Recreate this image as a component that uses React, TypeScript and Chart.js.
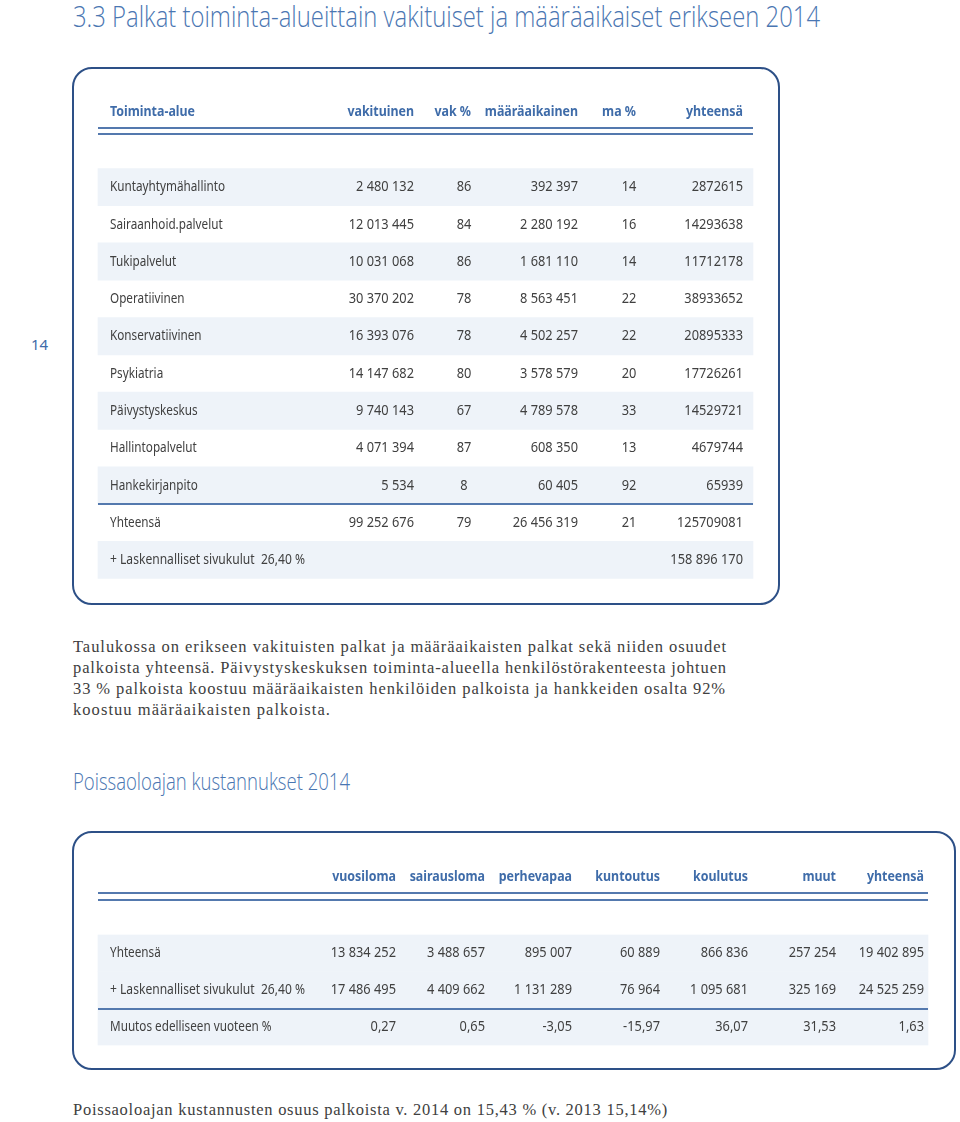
import React, { useEffect, useLayoutEffect, useRef } from "react";
import { Chart, registerables } from "chart.js";

Chart.register(...registerables);

// ---------- Table 1 data ----------
const HEADERS1 = ["Toiminta-alue", "vakituinen", "vak %", "määräaikainen", "ma %", "yhteensä"];
const AREAS = [
  "Kuntayhtymähallinto",
  "Sairaanhoid.palvelut",
  "Tukipalvelut",
  "Operatiivinen",
  "Konservatiivinen",
  "Psykiatria",
  "Päivystyskeskus",
  "Hallintopalvelut",
  "Hankekirjanpito",
  "Yhteensä",
];
const VAKITUINEN = [2480132, 12013445, 10031068, 30370202, 16393076, 14147682, 9740143, 4071394, 5534, 99252676];
const VAK_PCT = [86, 84, 86, 78, 78, 80, 67, 87, 8, 79];
const MAARAAIKAINEN = [392397, 2280192, 1681110, 8563451, 4502257, 3578579, 4789578, 608350, 60405, 26456319];
const MA_PCT = [14, 16, 14, 22, 22, 20, 33, 13, 92, 21];
const YHTEENSA = [2872615, 14293638, 11712178, 38933652, 20895333, 17726261, 14529721, 4679744, 65939, 125709081];
const SIVUKULUT_LABEL = "+ Laskennalliset sivukulut  26,40 %";
const SIVUKULUT_TOTAL = 158896170;

// ---------- Table 2 data ----------
const HEADERS2 = ["vuosiloma", "sairausloma", "perhevapaa", "kuntoutus", "koulutus", "muut", "yhteensä"];
const ROWS2 = ["Yhteensä", "+ Laskennalliset sivukulut  26,40 %", "Muutos edelliseen vuoteen %"];
const POISSA_YHTEENSA = [13834252, 3488657, 895007, 60889, 866836, 257254, 19402895];
const POISSA_SIVUKULUT = [17486495, 4409662, 1131289, 76964, 1095681, 325169, 24525259];
const POISSA_MUUTOS = [0.27, 0.65, -3.05, -15.97, 36.07, 31.53, 1.63];

// ---------- text ----------
const TITLE = "3.3 Palkat toiminta-alueittain vakituiset ja määräaikaiset erikseen 2014";
const SUBTITLE = "Poissaoloajan kustannukset 2014";
const PARA = [
  "Taulukossa on erikseen vakituisten palkat ja määräaikaisten palkat sekä niiden osuudet",
  "palkoista yhteensä. Päivystyskeskuksen toiminta-alueella henkilöstörakenteesta johtuen",
  "33 % palkoista koostuu määräaikaisten henkilöiden palkoista ja hankkeiden osalta 92%",
  "koostuu määräaikaisten palkoista.",
];
const FOOTNOTE = "Poissaoloajan kustannusten osuus palkoista v. 2014 on 15,43 % (v. 2013 15,14%)";

// ---------- styles / layout ----------
const SANS = "'Noto Sans', 'Open Sans', 'DejaVu Sans', sans-serif";
const LIGHT = "'Open Sans', 'Roboto', 'Noto Sans', sans-serif";
const SERIF = "'Liberation Serif', 'DejaVu Serif', serif";
const BLUE = "#3f6ca9";
const TITLE_BLUE = "#4a76b2";
const TEXT = "#404040";
const STRIPE = "#eef3f9";
const RULE = "#5479ae";
const FRAME = "#2d5087";

const BODY_FONT = `15px ${SANS}`;
const HEAD_FONT = `bold 15px ${SANS}`;

const groupInt = (v: number) => String(v).replace(/\B(?=(\d{3})+(?!\d))/g, " ");
const plainInt = (v: number) => String(v);
const dec = (v: number) => v.toFixed(2).replace(".", ",");

type Align = "left" | "right" | "center";

function drawText(ctx: CanvasRenderingContext2D, s: string, x: number, y: number, align: Align, font: string, color: string, sx: number) {
  ctx.save();
  ctx.font = font;
  ctx.fillStyle = color;
  ctx.textAlign = align;
  ctx.textBaseline = "middle";
  ctx.translate(x, y);
  ctx.scale(sx, 1);
  ctx.fillText(s, 0, 0);
  ctx.restore();
}

function hRule(ctx: CanvasRenderingContext2D, x0: number, x1: number, y: number, color: string) {
  ctx.save();
  ctx.fillStyle = color;
  ctx.fillRect(x0, Math.round(y) - 1, x1 - x0, 2);
  ctx.restore();
}

function fitScale(ctx: CanvasRenderingContext2D, font: string, sample: string, target: number) {
  ctx.save();
  ctx.font = font;
  const w = ctx.measureText(sample).width;
  ctx.restore();
  return w > 0 ? target / w : 1;
}

type Scales = { body: number; num: number; head: number };
type DrawFn = (
  ctx: CanvasRenderingContext2D,
  px: (v: number) => number,
  rowY: (i: number) => number,
  pitch: number,
  s: Scales
) => void;

function TableChart(props: {
  top: number;
  height: number;
  labels: string[];
  shaded: boolean[];
  stripe: [number, number];
  padTop: number;
  padBottom: number;
  draw: DrawFn;
}) {
  const ref = useRef<HTMLCanvasElement | null>(null);
  useEffect(() => {
    if (!ref.current) return;
    const drawFn = props.draw;
    const chart = new Chart(ref.current, {
      type: "bar",
      data: {
        labels: props.labels,
        datasets: [
          {
            data: props.labels.map((_, i) => (props.shaded[i] ? props.stripe : null)) as any,
            backgroundColor: STRIPE,
            borderWidth: 0,
            barPercentage: 1,
            categoryPercentage: 1,
          },
        ],
      },
      options: {
        responsive: false,
        animation: false,
        indexAxis: "y",
        events: [],
        layout: { padding: { top: props.padTop, bottom: props.padBottom, left: 0, right: 0 } },
        scales: {
          x: { type: "linear", min: 0, max: 960, display: false },
          y: { type: "category", display: false, offset: true, grid: { display: false } },
        },
        plugins: { legend: { display: false }, tooltip: { enabled: false } },
      },
      plugins: [
        {
          id: "tableText",
          afterDatasetsDraw(c: any) {
            const ctx = c.ctx as CanvasRenderingContext2D;
            const xs = c.scales.x;
            const ys = c.scales.y;
            const px = (v: number) => xs.getPixelForValue(v);
            const rowY = (i: number) => ys.getPixelForValue(i);
            const pitch = ys.getPixelForValue(1) - ys.getPixelForValue(0);
            const s: Scales = {
              body: fitScale(ctx, BODY_FONT, "Kuntayhtymähallinto", 115),
              num: fitScale(ctx, BODY_FONT, "2 480 132", 58),
              head: fitScale(ctx, HEAD_FONT, "Toiminta-alue", 85),
            };
            drawFn(ctx, px, rowY, pitch, s);
          },
        },
      ],
    });
    return () => chart.destroy();
  }, []);
  return (
    <canvas
      ref={ref}
      width={960}
      height={props.height}
      style={{ position: "absolute", left: 0, top: props.top, width: 960, height: props.height }}
    />
  );
}

const draw1: DrawFn = (ctx, px, rowY, pitch, s) => {
  const hy = rowY(0) - 2 * pitch - 1;
  drawText(ctx, HEADERS1[0], px(110), hy, "left", HEAD_FONT, BLUE, s.head);
  drawText(ctx, HEADERS1[1], px(414), hy, "right", HEAD_FONT, BLUE, s.head);
  drawText(ctx, HEADERS1[2], px(471), hy, "right", HEAD_FONT, BLUE, s.head);
  drawText(ctx, HEADERS1[3], px(578), hy, "right", HEAD_FONT, BLUE, s.head);
  drawText(ctx, HEADERS1[4], px(636), hy, "right", HEAD_FONT, BLUE, s.head);
  drawText(ctx, HEADERS1[5], px(743), hy, "right", HEAD_FONT, BLUE, s.head);
  hRule(ctx, px(98), px(753), hy + 17, RULE);
  hRule(ctx, px(98), px(753), hy + 23, RULE);
  AREAS.forEach((a, i) => {
    const y = rowY(i);
    drawText(ctx, a, px(110), y, "left", BODY_FONT, TEXT, s.body);
    drawText(ctx, groupInt(VAKITUINEN[i]), px(414), y, "right", BODY_FONT, TEXT, s.num);
    drawText(ctx, String(VAK_PCT[i]), px(464), y, "center", BODY_FONT, TEXT, s.num);
    drawText(ctx, groupInt(MAARAAIKAINEN[i]), px(578), y, "right", BODY_FONT, TEXT, s.num);
    drawText(ctx, String(MA_PCT[i]), px(629), y, "center", BODY_FONT, TEXT, s.num);
    drawText(ctx, plainInt(YHTEENSA[i]), px(743), y, "right", BODY_FONT, TEXT, s.num);
  });
  const last = AREAS.length;
  hRule(ctx, px(98), px(753), (rowY(last - 2) + rowY(last - 1)) / 2, RULE);
  drawText(ctx, SIVUKULUT_LABEL, px(110), rowY(last), "left", BODY_FONT, TEXT, s.body * 1.03);
  drawText(ctx, groupInt(SIVUKULUT_TOTAL), px(743), rowY(last), "right", BODY_FONT, TEXT, s.num);
};

const COLS2 = [396, 485, 572, 660, 748, 836, 924];

const draw2: DrawFn = (ctx, px, rowY, pitch, s) => {
  const hy = rowY(0) - 2 * pitch - 2;
  HEADERS2.forEach((h, j) => drawText(ctx, h, px(COLS2[j]), hy, "right", HEAD_FONT, BLUE, s.head));
  hRule(ctx, px(98), px(928), hy + 16, RULE);
  hRule(ctx, px(98), px(928), hy + 23, RULE);
  const rows = [POISSA_YHTEENSA.map(groupInt), POISSA_SIVUKULUT.map(groupInt), POISSA_MUUTOS.map(dec)];
  ROWS2.forEach((r, i) => {
    const y = rowY(i);
    drawText(ctx, r, px(110), y, "left", BODY_FONT, TEXT, i === 1 ? s.body * 1.03 : s.body);
    rows[i].forEach((t, j) => drawText(ctx, t, px(COLS2[j]), y, "right", BODY_FONT, TEXT, s.num));
  });
  hRule(ctx, px(98), px(928), (rowY(1) + rowY(2)) / 2, RULE);
};

const frame = (left: number, top: number, width: number, height: number): React.CSSProperties => ({
  position: "absolute",
  left,
  top,
  width,
  height,
  boxSizing: "border-box",
  border: `2px solid ${FRAME}`,
  borderRadius: 20,
});

function FitLine(props: { text: string; left: number; top: number; width: number; mode: "scale" | "spacing"; style: React.CSSProperties }) {
  const ref = useRef<HTMLSpanElement | null>(null);
  useLayoutEffect(() => {
    const el = ref.current;
    if (!el) return;
    el.style.letterSpacing = "0px";
    el.style.transform = "none";
    const w = el.getBoundingClientRect().width;
    if (w <= 0) return;
    if (props.mode === "scale") {
      el.style.transform = `scaleX(${props.width / w})`;
    } else {
      el.style.letterSpacing = `${(props.width - w) / props.text.length}px`;
    }
  }, []);
  return (
    <span
      ref={ref}
      style={{
        position: "absolute",
        left: props.left,
        top: props.top,
        whiteSpace: "nowrap",
        display: "inline-block",
        transformOrigin: "0 50%",
        ...props.style,
      }}
    >
      {props.text}
    </span>
  );
}

const serifStyle: React.CSSProperties = { font: `16.5px ${SERIF}`, lineHeight: "21px", color: "#404040" };
const PARA_WIDTHS = [654, 654, 653, 258];

export default function App() {
  return (
    <div style={{ position: "absolute", left: 0, top: 0, width: 960, height: 1122, background: "#fff", overflow: "hidden" }}>
      <FitLine
        text={TITLE}
        left={73}
        top={-1}
        width={747}
        mode="scale"
        style={{ font: `300 30px ${LIGHT}`, lineHeight: "34px", color: TITLE_BLUE }}
      />
      <div style={{ position: "absolute", left: 31, top: 334, font: `15px ${SANS}`, lineHeight: "20px", color: BLUE }}>14</div>

      <div style={frame(72, 67, 708, 538)} />
      <TableChart
        top={60}
        height={560}
        labels={[...AREAS, SIVUKULUT_LABEL]}
        shaded={[true, false, true, false, true, false, true, false, true, false, true]}
        stripe={[98, 753]}
        padTop={108.35}
        padBottom={41.35}
        draw={draw1}
      />

      {PARA.map((l, i) => (
        <FitLine key={i} text={l} left={73} top={636 + i * 21} width={PARA_WIDTHS[i]} mode="spacing" style={serifStyle} />
      ))}

      <FitLine
        text={SUBTITLE}
        left={73}
        top={766}
        width={277}
        mode="scale"
        style={{ font: `300 24px ${LIGHT}`, lineHeight: "30px", color: TITLE_BLUE }}
      />

      <div style={frame(72, 831, 884, 239)} />
      <TableChart
        top={820}
        height={250}
        labels={ROWS2}
        shaded={[true, true, true]}
        stripe={[98, 928]}
        padTop={114.5}
        padBottom={24.5}
        draw={draw2}
      />

      <FitLine text={FOOTNOTE} left={73} top={1099} width={595} mode="spacing" style={serifStyle} />
    </div>
  );
}
